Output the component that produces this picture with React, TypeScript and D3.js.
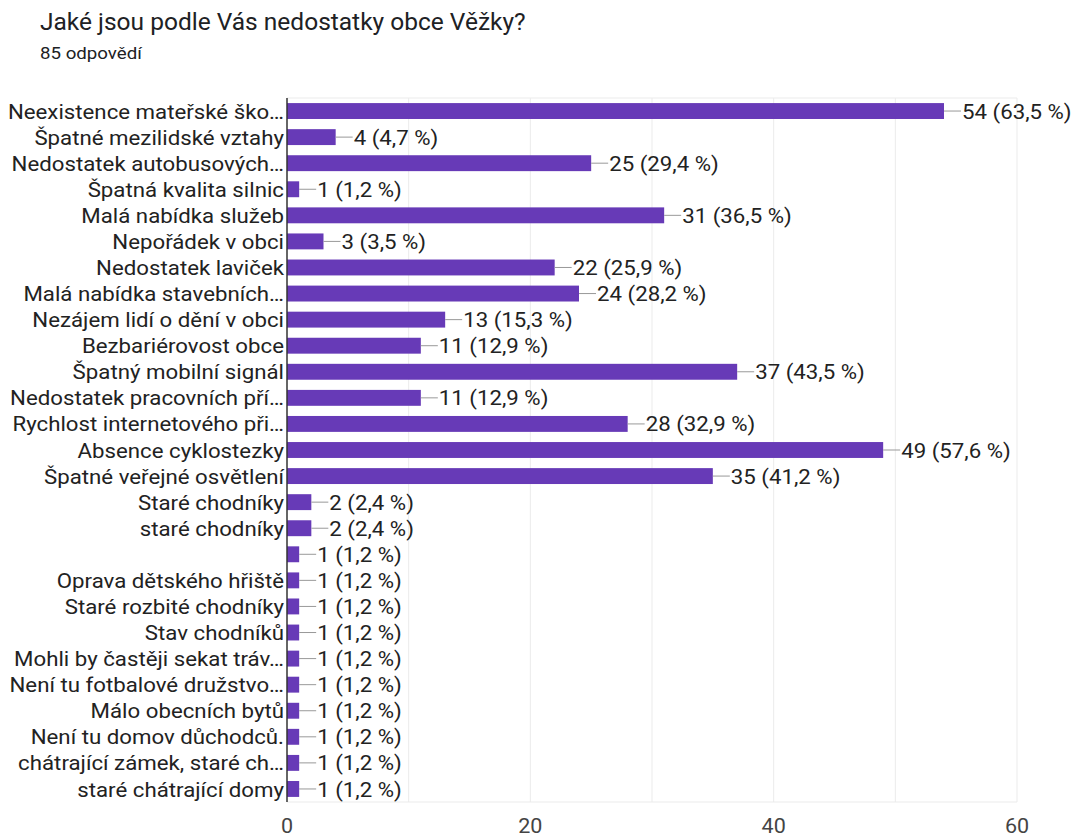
import React from "react";
import * as d3 from "d3";

const TITLE = "Jaké jsou podle Vás nedostatky obce Věžky?";
const SUBTITLE = "85 odpovědí";
const TOTAL = 85;

const categories = [
  "Neexistence mateřské ško…",
  "Špatné mezilidské vztahy",
  "Nedostatek autobusových…",
  "Špatná kvalita silnic",
  "Malá nabídka služeb",
  "Nepořádek v obci",
  "Nedostatek laviček",
  "Malá nabídka stavebních…",
  "Nezájem lidí o dění v obci",
  "Bezbariérovost obce",
  "Špatný mobilní signál",
  "Nedostatek pracovních pří…",
  "Rychlost internetového při…",
  "Absence cyklostezky",
  "Špatné veřejné osvětlení",
  "Staré chodníky",
  "staré chodníky",
  "",
  "Oprava dětského hřiště",
  "Staré rozbité chodníky",
  "Stav chodníků",
  "Mohli by častěji sekat tráv…",
  "Není tu fotbalové družstvo…",
  "Málo obecních bytů",
  "Není tu domov důchodců.",
  "chátrající zámek, staré ch…",
  "staré chátrající domy",
];

const counts = [54, 4, 25, 1, 31, 3, 22, 24, 13, 11, 37, 11, 28, 49, 35, 2, 2, 1, 1, 1, 1, 1, 1, 1, 1, 1, 1];

const xTicks = [0, 20, 40, 60];
const gridTicks = [10, 20, 30, 40, 50, 60];

const W = 1077;
const H = 834;
const M = { left: 287, right: 1017, top: 98, bottom: 802 };
const FONT = "Roboto, 'Noto Sans', sans-serif";
const SX = 1.06;

export default function App() {
  const x = d3.scaleLinear().domain([0, 60]).range([M.left, M.right]);
  const idx = categories.map((_, i) => String(i));
  const y = d3.scaleBand().domain(idx).range([M.top, M.bottom]).paddingInner(0.39).paddingOuter(0.195);
  const fmt = (v: number) => {
    const p = ((v / TOTAL) * 100).toFixed(1).replace(".", ",");
    return `${v} (${p} %)`;
  };

  return (
    <svg width={W} height={H} style={{ position: "absolute", left: 0, top: 0, background: "#fff" }} fontFamily={FONT}>
      <text x={40} y={30} fontSize={24.5} fill="#202124">{TITLE}</text>
      <g transform={`translate(40,59) scale(1.1,1)`}>
        <text x={0} y={0} fontSize={17} fill="#202124">{SUBTITLE}</text>
      </g>

      {gridTicks.map((t) => (
        <line key={t} x1={x(t)} x2={x(t)} y1={M.top} y2={M.bottom} stroke="#ebebeb" strokeWidth={1} />
      ))}
      <line x1={M.left} x2={M.right} y1={M.top} y2={M.top} stroke="#ebebeb" />
      <line x1={M.left} x2={M.right} y1={M.bottom} y2={M.bottom} stroke="#ebebeb" />

      {counts.map((v, i) => {
        const yy = y(String(i))!;
        const bh = y.bandwidth();
        const cy = yy + bh / 2;
        const xe = x(v);
        return (
          <g key={i}>
            <rect x={x(0)} y={yy} width={xe - x(0)} height={bh} fill="#673ab7" />
            <line x1={xe} x2={xe + 17} y1={cy} y2={cy} stroke="#999" strokeWidth={1} />
            <g transform={`translate(${xe + 18},${cy}) scale(${SX},1)`}>
              <text x={0} y={0} dy="0.36em" fontSize={21} fill="#222">{fmt(v)}</text>
            </g>
            <g transform={`translate(${M.left - 3},${cy}) scale(${SX},1)`}>
              <text x={0} y={0} dy="0.36em" fontSize={21} fill="#222" textAnchor="end">{categories[i]}</text>
            </g>
          </g>
        );
      })}

      <line x1={M.left} x2={M.left} y1={M.top} y2={M.bottom} stroke="#333" strokeWidth={1.5} />

      {xTicks.map((t) => (
        <g key={t} transform={`translate(${x(t)},833) scale(1.05,1)`}>
          <text x={0} y={0} fontSize={20.5} fill="#444" textAnchor="middle">{t}</text>
        </g>
      ))}
    </svg>
  );
}
